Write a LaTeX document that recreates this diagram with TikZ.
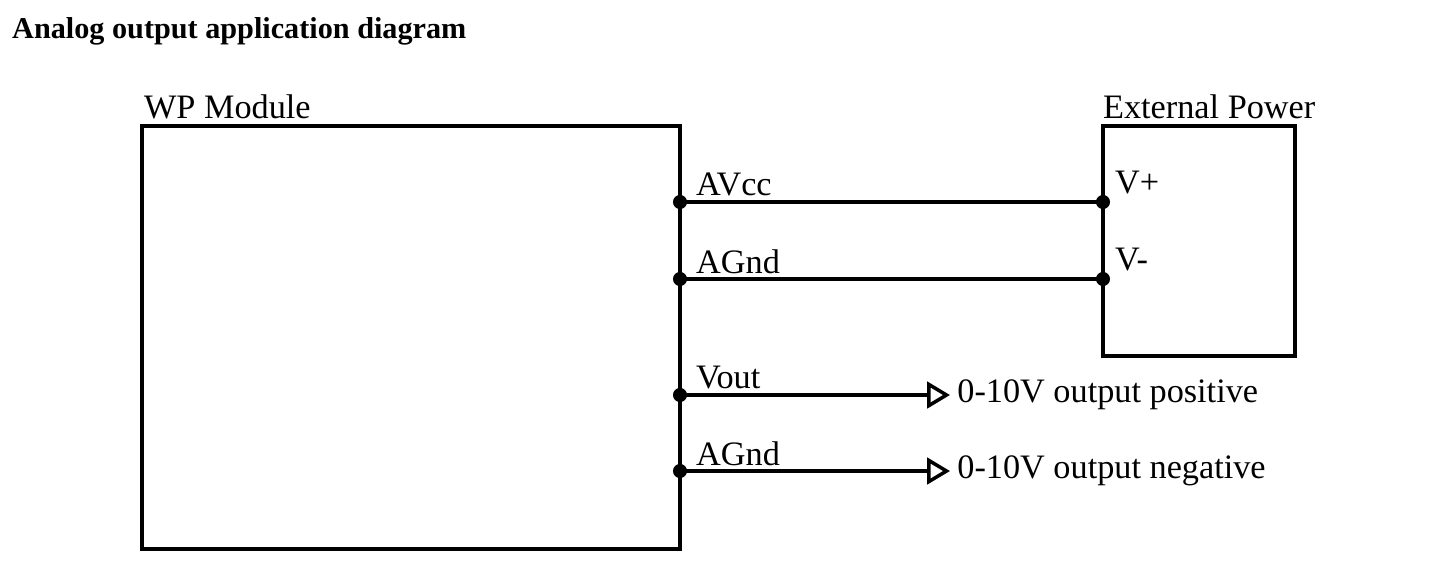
\documentclass[tikz,border=0pt]{standalone}
\usepackage{fontspec}
\setmainfont{Liberation Serif}
\usetikzlibrary{positioning, arrows.meta}

\begin{document}
\begin{tikzpicture}[
    x=0.02cm, y=-0.02cm,
    wire/.style={line width=2.1pt},
    pin/.style={circle, fill=black, inner sep=0pt, minimum size=8pt},
    lbl/.style={font=\fontsize{19.5}{23}\selectfont, inner sep=1pt},
    sig/.style={wire, -{Triangle[open, length=13pt, width=15pt, line width=2pt]}}
]
    \useasboundingbox (0,0) rectangle (1443,564);

    % Title
    \node[anchor=west, font=\fontsize{17.2}{20}\selectfont\bfseries] (title) at (6,31) {Analog output application diagram};

    % Boxes
    \draw[wire] (142,126) rectangle (680,549);
    \node[lbl, anchor=south west] (wp) at (142,121) {WP Module};
    \draw[wire] (1103,126) rectangle (1295,356);
    \node[lbl, anchor=south west] (ext) at (1101,121) {External Power};

    % Pins
    \node[pin] (avcc) at (680,202) {};
    \node[pin] (agnd) at (680,279) {};
    \node[pin] (vout) at (680,395) {};
    \node[pin] (agndb) at (680,471) {};
    \node[pin] (vp) at (1103,202) {};
    \node[pin] (vm) at (1103,279) {};
    \coordinate (pos) at (950,395);
    \coordinate (neg) at (950,471);

    % Pin labels
    \node[lbl, above right=2pt and 8pt of avcc.center] {AVcc};
    \node[lbl, above right=2pt and 8pt of agnd.center] {AGnd};
    \node[lbl, above right=2pt and 8pt of vout.center] {Vout};
    \node[lbl, above right=2pt and 8pt of agndb.center] {AGnd};
    \node[lbl, anchor=west] at (1113,183) {V+};
    \node[lbl, anchor=west] at (1113,260) {V-};

    % Wires
    \draw[wire] (avcc.center) -- (vp.center);
    \draw[wire] (agnd.center) -- (vm.center);
    \draw[sig] (vout.center) -- (pos);
    \draw[sig] (agndb.center) -- (neg);
    \node[lbl, anchor=west] at ([xshift=3pt]pos) {0-10V output positive};
    \node[lbl, anchor=west] at ([xshift=3pt]neg) {0-10V output negative};
\end{tikzpicture}
\end{document}
